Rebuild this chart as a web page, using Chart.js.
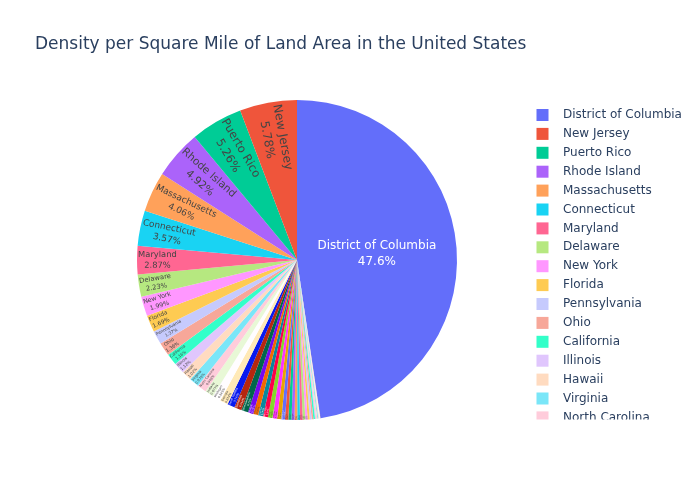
<!DOCTYPE html>
<html>
<head>
<meta charset="utf-8">
<script src="https://cdn.jsdelivr.net/npm/chart.js@4.4.1/dist/chart.umd.min.js"></script>
<style>
  html, body { margin: 0; padding: 0; background: #ffffff; }
  #c { display: block; }
</style>
</head>
<body>
<canvas id="c" width="700" height="500"></canvas>
<script>
// ---- DATA (sorted descending, as in the reference) ----
const titleText = 'Density per Square Mile of Land Area in the United States';
const states = [
  'District of Columbia','New Jersey','Puerto Rico','Rhode Island','Massachusetts',
  'Connecticut','Maryland','Delaware','New York','Florida',
  'Pennsylvania','Ohio','California','Illinois','Hawaii',
  'Virginia','North Carolina','Indiana','Michigan','Georgia',
  'South Carolina','Tennessee','New Hampshire','Kentucky','Wisconsin',
  'Louisiana','Washington','Texas','Alabama','Missouri',
  'West Virginia','Vermont','Minnesota','Mississippi','Arizona',
  'Arkansas','Oklahoma','Iowa','Colorado','Maine',
  'Oregon','Kansas','Utah','Nevada','Nebraska',
  'Idaho','New Mexico','South Dakota','North Dakota','Montana',
  'Wyoming','Alaska'
];
const density = [
  9856.5, 1195.5, 1088.2, 1018.1, 839.4,
  738.1, 594.8, 460.8, 411.2, 350.6,
  283.9, 282.3, 239.1, 231.1, 211.8,
  202.6, 196.1, 181.0, 174.8, 168.4,
  153.9, 153.9, 147.0, 109.9, 105.0,
  104.9, 101.2, 96.3, 94.4, 87.1,
  77.1, 67.9, 66.6, 63.2, 56.3,
  56.0, 54.7, 54.5, 48.5, 43.1,
  39.9, 34.9, 33.6, 24.6, 23.8,
  19.0, 17.0, 10.7, 9.7, 6.8,
  5.8, 1.2
];
const baseColors = ['#636efa','#EF553B','#00cc96','#ab63fa','#FFA15A','#19d3f3','#FF6692','#B6E880','#FF97FF','#FECB52'];

// ---- colour helpers (plotly extended pie colours: base, lighten 20, darken 20) ----
function hexToHsl(hex){
  const n = parseInt(hex.slice(1),16);
  let r=((n>>16)&255)/255, g=((n>>8)&255)/255, b=(n&255)/255;
  const mx=Math.max(r,g,b), mn=Math.min(r,g,b);
  let h=0,s=0,l=(mx+mn)/2;
  if(mx!==mn){
    const d=mx-mn;
    s = l>0.5 ? d/(2-mx-mn) : d/(mx+mn);
    if(mx===r) h=(g-b)/d+(g<b?6:0);
    else if(mx===g) h=(b-r)/d+2;
    else h=(r-g)/d+4;
    h/=6;
  }
  return [h,s,l];
}
function hslToHex(h,s,l){
  function hue2rgb(p,q,t){ if(t<0)t+=1; if(t>1)t-=1; if(t<1/6)return p+(q-p)*6*t; if(t<1/2)return q; if(t<2/3)return p+(q-p)*(2/3-t)*6; return p; }
  let r,g,b;
  if(s===0){ r=g=b=l; }
  else { const q=l<0.5?l*(1+s):l+s-l*s; const p=2*l-q; r=hue2rgb(p,q,h+1/3); g=hue2rgb(p,q,h); b=hue2rgb(p,q,h-1/3); }
  const to=x=>Math.round(x*255).toString(16).padStart(2,'0');
  return '#'+to(r)+to(g)+to(b);
}
function shift(hex, amt){ const [h,s,l]=hexToHsl(hex); return hslToHex(h,s,Math.min(1,Math.max(0,l+amt))); }
const extColors = baseColors.concat(baseColors.map(c=>shift(c,0.2)), baseColors.map(c=>shift(c,-0.2)));
const sliceColors = states.map((_,i)=>extColors[i % extColors.length]);

function isDark(hex){
  const n=parseInt(hex.slice(1),16);
  const r=(n>>16)&255,g=(n>>8)&255,b=n&255;
  return (r*299+g*587+b*114)/1000 < 128;
}
const total = density.reduce((a,b)=>a+b,0);
function pctText(v){
  let t=(v/total*100).toPrecision(3);
  if(t.indexOf('.')!==-1) t=t.replace(/\.?0+$/,'');
  return t+'%';
}

// drawing order: first slice ends at 12 o'clock, others run counterclockwise from 12
const order = [0];
for(let i=states.length-1;i>=1;i--) order.push(i);

const FONT = '"DejaVu Sans", Verdana, sans-serif';
const FS = 12;

// ---- plotly-like inside text placement ----
const TEXTPAD = 3;
function calcMaxHalfSize(a, halfAngle, r, ring){
  const q = a + 1/(2*Math.tan(halfAngle));
  return r*Math.min(1/(Math.sqrt(q*q+0.5)+q), ring/(Math.sqrt(a*a+ring/2)+a));
}
function calcRCenter(a,b){ return Math.cos(b)-a*b; }
function calcRotate(t){ return (180/Math.PI*t+720)%180-90; }

const sliceText = {
  id:'sliceText',
  afterDatasetsDraw(chart){
    const ctx=chart.ctx;
    const meta=chart.getDatasetMeta(0);
    meta.data.forEach((arc,j)=>{
      const idx=order[j];
      const p=arc.getProps(['x','y','startAngle','endAngle','outerRadius'],true);
      const r=p.outerRadius, cx=p.x, cy=p.y;
      const half=(p.endAngle-p.startAngle)/2;
      if(half<=0) return;
      const mid=(p.startAngle+p.endAngle)/2+Math.PI/2; // plotly angle: 0 at top, clockwise
      const lines=[states[idx], pctText(density[idx])];
      ctx.font = FS+'px '+FONT;
      const w=Math.max(...lines.map(s=>ctx.measureText(s).width));
      const h=FS*2.5;
      const rIns=Math.min(1/(1+1/Math.sin(half)),0.5);
      const diam=Math.sqrt(w*w+h*h);
      let best={scale:rIns*r*2/diam, rCenter:1-rIns, rotate:0};
      if(best.scale<1){
        const rr=Math.max(0,r-2*TEXTPAD);
        let a=h/w; let s=calcMaxHalfSize(a,half,rr,1);
        const tan={scale:s*2/w, rCenter:calcRCenter(a,s/rr), rotate:calcRotate(mid+Math.PI/2)};
        a=w/h; s=calcMaxHalfSize(a,half,rr,1);
        const rad={scale:s*2/h, rCenter:calcRCenter(a,s/rr), rotate:calcRotate(mid)};
        [tan,rad].forEach(t=>{ if(t.scale>best.scale) best=t; });
      }
      const sc=Math.min(1,best.scale);
      const fs=FS*sc;
      if(fs<0.8) return;
      const tx=cx+r*Math.sin(mid)*best.rCenter;
      const ty=cy-r*Math.cos(mid)*best.rCenter;
      ctx.save();
      ctx.translate(tx,ty);
      ctx.rotate(best.rotate*Math.PI/180);
      ctx.font=fs+'px '+FONT;
      ctx.fillStyle=isDark(sliceColors[idx])?'#ffffff':'#444444';
      ctx.textAlign='center';
      ctx.textBaseline='middle';
      const ls=1.3*fs;
      ctx.fillText(lines[0],0,-ls/2);
      ctx.fillText(lines[1],0,ls/2);
      ctx.restore();
    });
  }
};

const decor = {
  id:'decor',
  afterDraw(chart){
    const ctx=chart.ctx;
    ctx.save();
    ctx.font='17px '+FONT;
    ctx.fillStyle='#2a3f5f';
    ctx.textAlign='left';
    ctx.textBaseline='middle';
    ctx.fillText(titleText,35,45);
    ctx.restore();
    // legend (scroll-clipped)
    ctx.save();
    ctx.beginPath();
    ctx.rect(520,100,180,319.5);
    ctx.clip();
    ctx.font='12px '+FONT;
    ctx.textAlign='left';
    ctx.textBaseline='middle';
    states.forEach((s,i)=>{
      const y=115+i*18.9;
      if(y>440) return;
      ctx.fillStyle=sliceColors[i];
      ctx.fillRect(536.5,y-6,12,12);
      ctx.fillStyle='#2a3f5f';
      ctx.fillText(s,563,y);
    });
    ctx.restore();
  }
};

new Chart(document.getElementById('c'),{
  type:'pie',
  data:{
    labels: order.map(i=>states[i]),
    datasets:[{
      data: order.map(i=>density[i]),
      backgroundColor: order.map(i=>sliceColors[i]),
      borderWidth:0
    }]
  },
  options:{
    responsive:false,
    animation:false,
    rotation:0,
    layout:{padding:{left:137,right:243,top:100,bottom:80}},
    plugins:{legend:{display:false},title:{display:false},tooltip:{enabled:false}}
  },
  plugins:[sliceText,decor]
});
</script>
</body>
</html>
